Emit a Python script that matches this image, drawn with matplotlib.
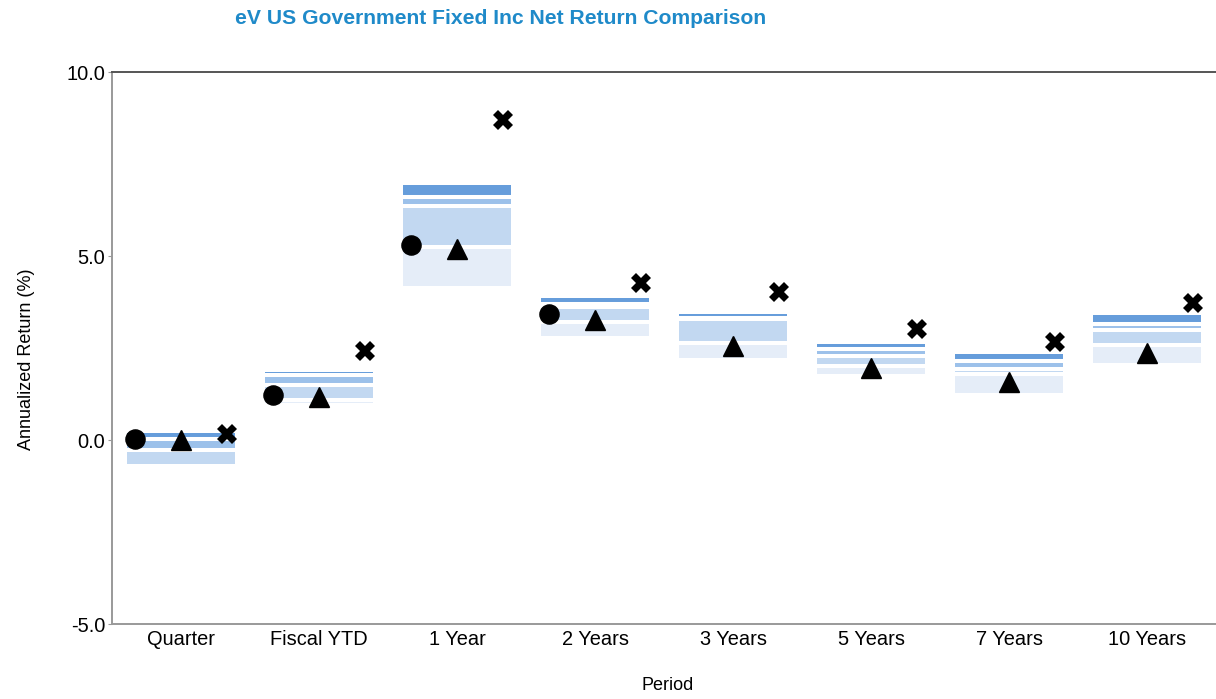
import numpy as np
import matplotlib.pyplot as plt

periods = ["Quarter", "Fiscal YTD", "1 Year", "2 Years", "3 Years", "5 Years", "7 Years", "10 Years"]

# universe percentiles (5th at top of each bar, 95th at bottom)
p5 = [0.18, 1.86, 6.93, 3.85, 3.42, 2.62, 2.33, 3.40]
p25 = [0.03, 1.77, 6.60, 3.70, 3.32, 2.46, 2.14, 3.16]
p50 = [-0.26, 1.50, 6.36, 3.61, 3.29, 2.27, 1.94, 2.98]
p75 = [-0.71, 1.10, 5.24, 3.20, 2.64, 2.02, 1.79, 2.57]
p95 = [-0.74, 1.00, 4.19, 2.83, 2.24, 1.79, 1.29, 2.10]

portfolio = [0.02, 1.22, 5.29, 3.42, np.nan, np.nan, np.nan, np.nan]
benchmark = [0.00, 1.17, 5.18, 3.26, 2.55, 1.96, 1.58, 2.36]
other = [0.16, 2.43, 8.70, 4.26, 4.01, 3.02, 2.67, 3.71]

band_colors = ['#669ddb', '#9cc1ea', '#c2d8f1', '#e5edf8']
font = ['Liberation Sans', 'DejaVu Sans']

fig = plt.figure(figsize=(12.16, 6.99), dpi=100)
ax = fig.add_axes([112/1216, 1 - 624/699, 1 - 112/1216, (624 - 72)/699])

x = np.arange(len(periods))
w = 0.78
levels = [p5, p25, p50, p75, p95]
for i in range(4):
    top = np.array(levels[i])
    bot = np.array(levels[i+1])
    ax.bar(x, top - bot, bottom=bot, width=w, color=band_colors[i], linewidth=0, zorder=2)

# white separators between the bands
for lev in [p25, p50, p75]:
    ax.hlines(lev, x - w/2, x + w/2, colors='white', linewidth=2.9, zorder=3)

ax.plot(x - 0.33, portfolio, 'o', color='black', markersize=13.8, linestyle='none', zorder=4)
ax.plot(x, benchmark, '^', color='black', markersize=13.8, linestyle='none', zorder=4)
ax.plot(x + 0.33, other, 'X', color='black', markersize=14, markeredgewidth=0,
        linestyle='none', zorder=4)

ax.set_xlim(-0.5, 7.5)
ax.set_ylim(-5, 10)
ax.set_yticks([-5, 0, 5, 10])
ax.set_yticklabels(['-5.0', '0.0', '5.0', '10.0'])
ax.set_xticks(x)
ax.set_xticklabels(periods)

for lab in ax.get_xticklabels() + ax.get_yticklabels():
    lab.set_family(font)
    lab.set_fontsize(14.4)
ax.tick_params(axis='x', length=0, pad=4)
ax.tick_params(axis='y', length=3, color='#999999', pad=2)

ax.spines['right'].set_visible(False)
ax.spines['top'].set_color('#555555')
ax.spines['top'].set_linewidth(1.4)
ax.spines['left'].set_color('#999999')
ax.spines['bottom'].set_color('#999999')
ax.spines['left'].set_linewidth(1.4)
ax.spines['bottom'].set_linewidth(1.4)

fig.text(27/1216, 1 - 359/699, 'Annualized Return (%)', fontsize=13, family=font,
         rotation=90, ha='center', va='center')
fig.text(668/1216, 1 - 685/699, 'Period', fontsize=13, family=font, ha='center', va='center')
fig.text(501/1216, 1 - 18/699, 'eV US Government Fixed Inc Net Return Comparison',
         fontsize=15.2, fontweight='bold', color='#1f8ac9', family=font,
         ha='center', va='center')

fig.savefig('out.png', dpi=100)
